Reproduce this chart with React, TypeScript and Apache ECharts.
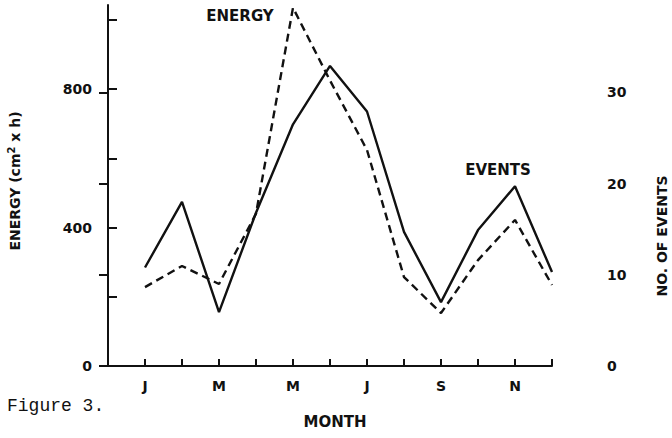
import React, { useEffect, useRef } from "react";
import * as echarts from "echarts";

const MONTHS = ["J", "F", "M", "A", "M", "J", "J", "A", "S", "O", "N", "D"];
const MONTH_LABEL_POS = [1, 3, 5, 7, 9, 11];
const ENERGY = [228, 289, 237, 440, 1035, 825, 624, 257, 153, 306, 422, 234];
const EVENTS = [10.8, 18.0, 5.9, 16.8, 26.5, 32.9, 27.9, 14.7, 7.0, 14.9, 19.7, 10.3];
const ENERGY_TICKS = [0, 200, 400, 600, 800, 1000];
const ENERGY_LABELS = [0, 400, 800];
const EVENT_TICKS = [0, 10, 20, 30];

const INK = "#111";
const FONT = "DejaVu Sans";

export default function App() {
  const ref = useRef<HTMLDivElement>(null);
  useEffect(() => {
    if (!ref.current) return;
    const chart = echarts.init(ref.current, undefined, { renderer: "svg" });
    const monthTicks = MONTHS.map((_, i) => i + 1);
    const baseX = {
      type: "value",
      min: 0,
      max: 12,
      splitLine: { show: false },
    };
    chart.setOption({
      animation: false,
      backgroundColor: "#fff",
      grid: [
        { left: 108, right: 120, top: 5, bottom: 72 },
        { left: 108, right: 120, top: 65, bottom: 72 },
      ],
      xAxis: [
        {
          ...baseX,
          gridIndex: 0,
          axisLine: { show: true, lineStyle: { color: INK, width: 2 } },
          axisTick: {
            show: true,
            inside: true,
            length: 7,
            customValues: monthTicks,
            lineStyle: { color: INK, width: 2 },
          },
          axisLabel: {
            show: true,
            customValues: MONTH_LABEL_POS,
            formatter: (v: number) => MONTHS[Math.round(v) - 1] ?? "",
            margin: 13,
            color: INK,
            fontFamily: FONT,
            fontWeight: "bold",
            fontSize: 14,
          },
        },
        {
          ...baseX,
          gridIndex: 1,
          show: false,
        },
      ],
      yAxis: [
        {
          type: "value",
          gridIndex: 0,
          min: 0,
          max: 1043,
          position: "left",
          splitLine: { show: false },
          axisLine: { show: true, lineStyle: { color: INK, width: 2 } },
          axisTick: {
            show: true,
            inside: true,
            length: 9,
            customValues: ENERGY_TICKS,
            lineStyle: { color: INK, width: 2 },
          },
          axisLabel: {
            customValues: ENERGY_LABELS,
            margin: 16,
            color: INK,
            fontFamily: FONT,
            fontWeight: "bold",
            fontSize: 14,
          },
        },
        {
          type: "value",
          gridIndex: 1,
          min: 0,
          max: 33,
          position: "right",
          offset: 35,
          splitLine: { show: false },
          axisLine: { show: true, lineStyle: { color: INK, width: 2 } },
          axisTick: {
            show: true,
            inside: true,
            length: 9,
            customValues: EVENT_TICKS,
            lineStyle: { color: INK, width: 2 },
          },
          axisLabel: {
            customValues: EVENT_TICKS,
            margin: 20,
            color: INK,
            fontFamily: FONT,
            fontWeight: "bold",
            fontSize: 14,
          },
        },
      ],
      series: [
        {
          name: "ENERGY",
          type: "line",
          xAxisIndex: 0,
          yAxisIndex: 0,
          data: ENERGY.map((v, i) => [i + 1, v]),
          symbol: "none",
          lineStyle: { color: INK, width: 2.4, type: [8, 5] },
        },
        {
          name: "EVENTS",
          type: "line",
          xAxisIndex: 1,
          yAxisIndex: 1,
          data: EVENTS.map((v, i) => [i + 1, v]),
          symbol: "none",
          lineStyle: { color: INK, width: 2.4 },
        },
      ],
      graphic: [
        {
          type: "text",
          x: 240,
          y: 16,
          style: {
            text: "ENERGY",
            fill: INK,
            font: `bold 15px "${FONT}"`,
            align: "center",
            verticalAlign: "middle",
          },
        },
        {
          type: "text",
          x: 498,
          y: 170,
          style: {
            text: "EVENTS",
            fill: INK,
            font: `bold 15px "${FONT}"`,
            align: "center",
            verticalAlign: "middle",
          },
        },
        {
          type: "text",
          x: 335,
          y: 422,
          style: {
            text: "MONTH",
            fill: INK,
            font: `bold 15px "${FONT}"`,
            align: "center",
            verticalAlign: "middle",
          },
        },
        {
          type: "text",
          x: 7,
          y: 406,
          style: {
            text: "Figure 3.",
            fill: INK,
            font: `18px "Liberation Mono"`,
            align: "left",
            verticalAlign: "middle",
          },
        },
        {
          type: "text",
          x: 15,
          y: 181,
          rotation: Math.PI / 2,
          style: {
            text: "{a|ENERGY (cm}{s|2}{a| x h)}",
            align: "center",
            verticalAlign: "middle",
            rich: {
              a: { fontFamily: FONT, fontWeight: "bold", fontSize: 14, fill: INK, color: INK },
              s: {
                fontFamily: FONT,
                fontWeight: "bold",
                fontSize: 10,
                fill: INK,
                color: INK,
                padding: [0, 0, 7, 0],
              },
            },
          },
        },
        {
          type: "text",
          x: 662,
          y: 236,
          rotation: Math.PI / 2,
          style: {
            text: "NO. OF EVENTS",
            fill: INK,
            font: `bold 14px "${FONT}"`,
            align: "center",
            verticalAlign: "middle",
          },
        },
      ],
    });
    return () => chart.dispose();
  }, []);
  return (
    <div
      ref={ref}
      style={{ position: "absolute", left: 0, top: 0, width: 672, height: 438, background: "#fff" }}
    />
  );
}
